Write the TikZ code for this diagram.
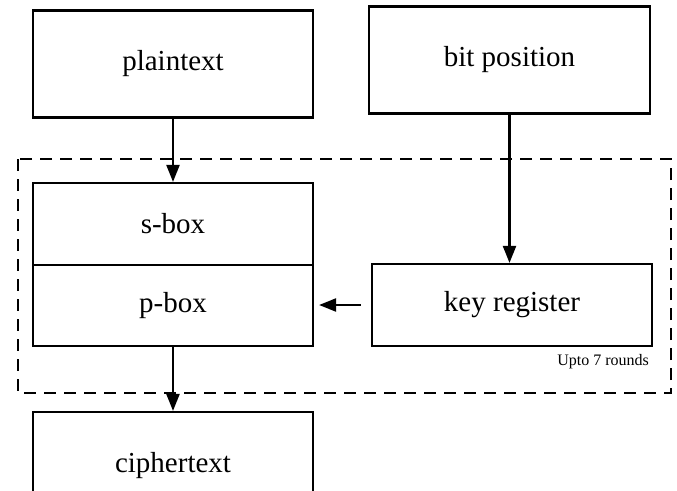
\documentclass[tikz,border=0pt]{standalone}
\usepackage{fontspec}
\setmainfont{Liberation Serif}
\usetikzlibrary{arrows.meta}
\begin{document}
\begin{tikzpicture}[x=1pt,y=-1pt,
  blk/.style={draw,line width=2.2pt,minimum width=280pt,inner sep=0pt,font=\fontsize{29}{32}\selectfont},
  conn/.style={line width=2.2pt,-{Triangle[length=17pt,width=13pt]}},
  roundbox/.style={draw,line width=2.2pt,dash pattern=on 12pt off 8pt}]
\useasboundingbox (0,0) rectangle (677,490);
\clip (0,0) rectangle (677,490);
\node[blk,minimum height=107pt] (plain) at (173,64) {plaintext};
\node[blk,minimum height=107pt,minimum width=281pt] (bitpos) at (509.5,60) {bit position};
\draw[roundbox] (18,159) rectangle (671,393);
\node[blk,minimum height=82pt] (sbox) at (173,224) {s-box};
\node[blk,minimum height=81pt] (pbox) at (173,305.5) {p-box};
\node[blk,minimum height=82pt] (keyreg) at (512,305) {key register};
\node[anchor=base east,inner sep=0pt,font=\fontsize{16}{18}\selectfont] (rounds) at (649,365) {Upto 7 rounds};
\node[blk,minimum height=108pt] (cipher) at (173,466) {ciphertext};
\draw[conn] (plain.south) -- (sbox.north);
\draw[conn] (bitpos.south) -- (bitpos.south |- keyreg.north);
\draw[conn,shorten <=10pt,shorten >=5pt] (keyreg.west) -- (keyreg.west -| pbox.east);
\draw[conn] (pbox.south) -- (cipher.north);
\end{tikzpicture}
\end{document}
